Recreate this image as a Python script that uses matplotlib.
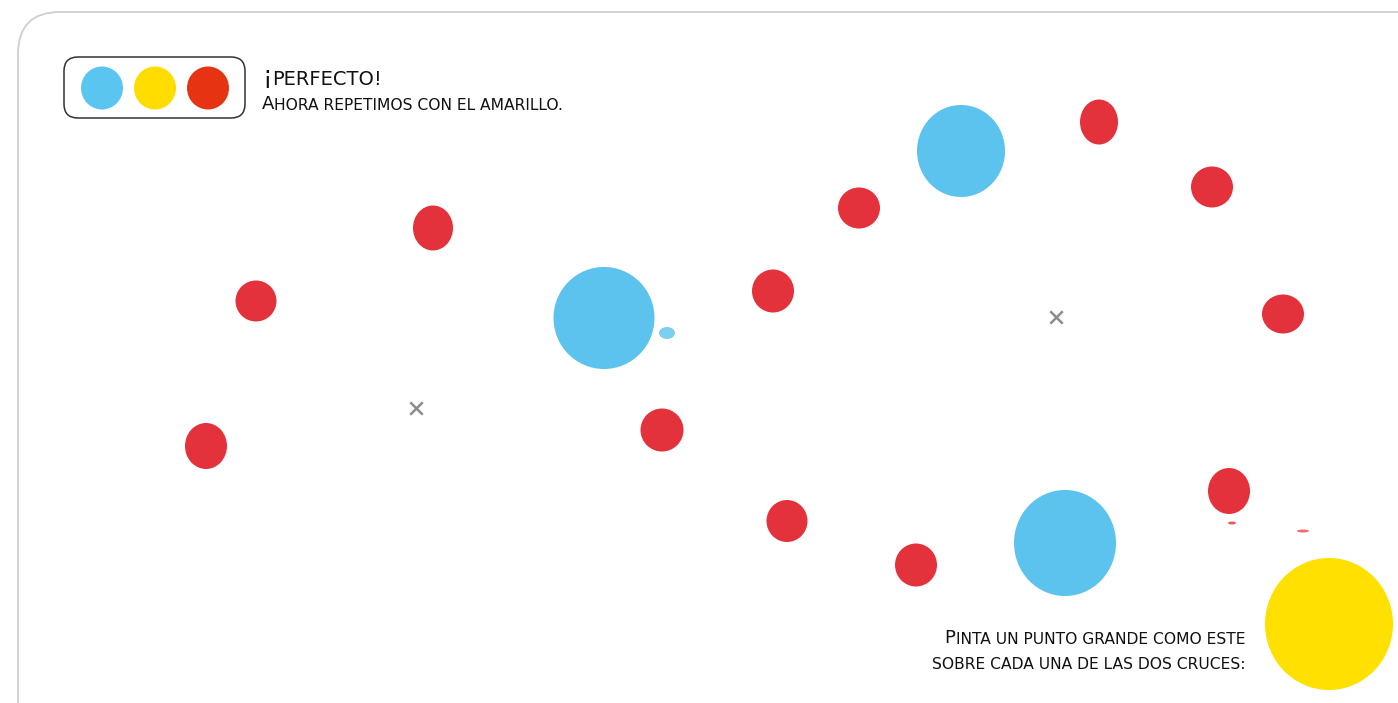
import matplotlib
matplotlib.use('Agg')
import matplotlib.pyplot as plt
from matplotlib.patches import Ellipse, FancyBboxPatch

# ── 数据 (像素坐标, y 向下) ──────────────────────────
W, H = 1398, 703

red_x = [433, 256, 206, 662, 773, 859, 1099, 1212, 1283, 1229, 787, 916]
red_y = [228, 301, 446, 430, 291, 208, 122, 187, 314, 491, 521, 565]
red_w = [40, 41, 42, 43, 42, 42, 38, 42, 42, 42, 41, 42]
red_h = [45, 41, 46, 43, 43, 41, 45, 41, 39, 46, 42, 43]

blue_x = [604, 961, 1065]
blue_y = [318, 151, 543]
blue_w = [101, 88, 102]
blue_h = [102, 92, 106]

yellow_x, yellow_y, yellow_w, yellow_h = 1329, 624, 128, 132

cross_x = [416, 1056]
cross_y = [408, 317]

legend_colors = ['#5BC5F2', '#FFDD00', '#E63312']
legend_x = [102, 155, 208]

RED = '#E3323B'
BLUE = '#5BC3EE'
YELLOW = '#FFE000'
FONT = 'Liberation Sans Narrow'

fig = plt.figure(figsize=(W / 100, H / 100), dpi=100)
ax = fig.add_axes([0, 0, 1, 1])
ax.set_xlim(0, W)
ax.set_ylim(H, 0)
ax.axis('off')

# 页面边框
ax.add_patch(FancyBboxPatch((18, 12), 1440, 740,
                            boxstyle='round,pad=0,rounding_size=42',
                            fc='white', ec='#cfcfcf', lw=1.3))

# 图例框
ax.add_patch(FancyBboxPatch((64, 57), 181, 61,
                            boxstyle='round,pad=0,rounding_size=14',
                            fc='white', ec='#333333', lw=1.1))
for x, c in zip(legend_x, legend_colors):
    ax.add_patch(Ellipse((x, 88), 42, 43, fc=c, ec='none'))

# 点
for x, y, w, h in zip(red_x, red_y, red_w, red_h):
    ax.add_patch(Ellipse((x, y), w, h, fc=RED, ec='none'))
for x, y, w, h in zip(blue_x, blue_y, blue_w, blue_h):
    ax.add_patch(Ellipse((x, y), w, h, fc=BLUE, ec='none'))
ax.add_patch(Ellipse((yellow_x, yellow_y), yellow_w, yellow_h, fc=YELLOW, ec='none'))

# 小斑点
ax.add_patch(Ellipse((667, 333), 16, 12, fc=BLUE, ec='none', alpha=0.8))
ax.add_patch(Ellipse((1232, 523), 8, 3, fc=RED, ec='none', alpha=0.8))
ax.add_patch(Ellipse((1303, 531), 12, 3, fc=RED, ec='none', alpha=0.7))

# 十字
ax.scatter(cross_x, cross_y, marker='x', s=80, color='#8c8c8c', linewidths=1.8, zorder=5)


def smallcaps_left(x, y, text, big, small):
    t0 = ax.text(x, y, text[0], fontsize=big, family=FONT, color='#111111',
                 ha='left', va='bottom')
    ax.annotate(text[1:].upper(), xy=(1, 0), xycoords=t0, fontsize=small,
                family=FONT, color='#111111', ha='left', va='bottom')


def smallcaps_right(x, y, text, big, small):
    t1 = ax.text(x, y, text[1:].upper(), fontsize=small, family=FONT,
                 color='#111111', ha='right', va='bottom')
    ax.annotate(text[0], xy=(0, 0), xycoords=t1, fontsize=big, family=FONT,
                color='#111111', ha='right', va='bottom')


smallcaps_left(262, 89, '¡Perfecto!', 17, 14)
smallcaps_left(262, 113, 'Ahora repetimos con el amarillo.', 13, 11.2)
smallcaps_right(1245, 647, 'Pinta un punto grande como este', 13, 11.2)
ax.text(1245, 672, 'SOBRE CADA UNA DE LAS DOS CRUCES:', fontsize=11.2, family=FONT,
        color='#111111', ha='right', va='bottom')

fig.savefig('out.png', dpi=100)
